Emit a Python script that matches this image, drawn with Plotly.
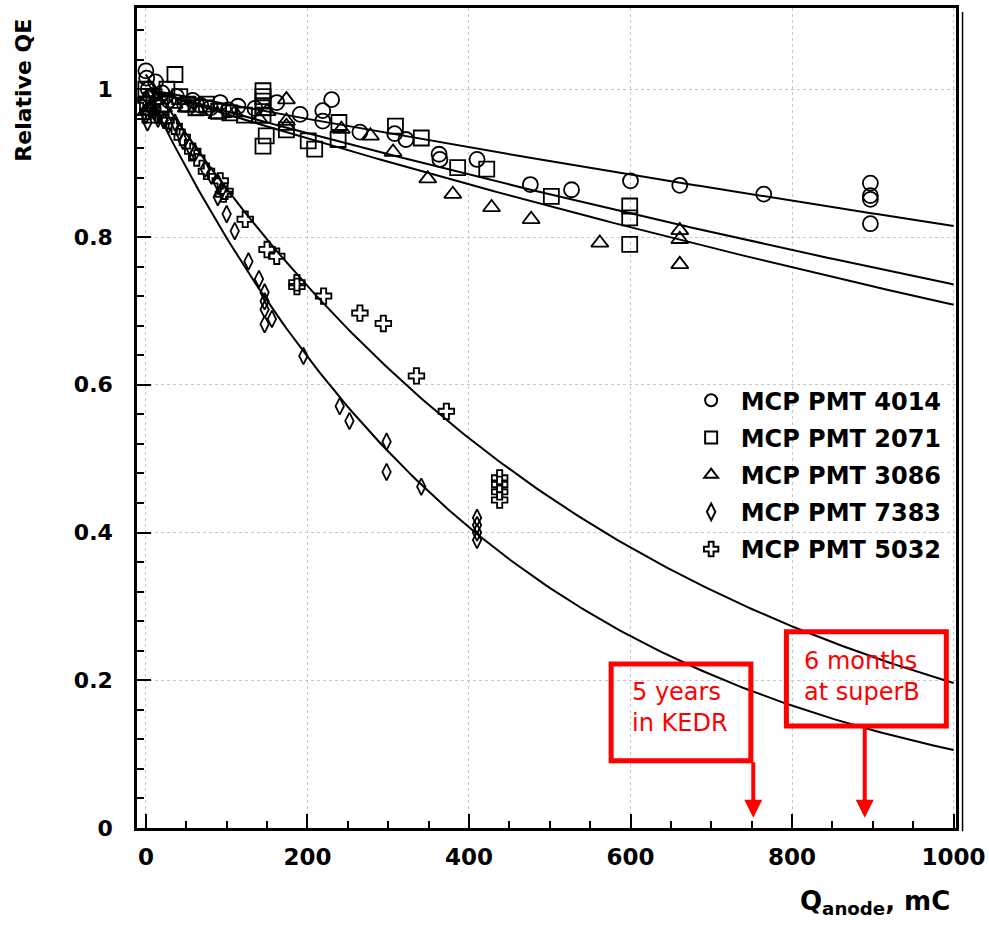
import numpy as np
import plotly.graph_objects as go

# ---------------- data ----------------
pmt4014_x = [0, 1, 3, 6, 12, 20, 28, 38, 48, 58, 68, 80, 92, 102, 114, 135,
             162, 191, 219, 219, 230, 265, 308, 322, 363, 364, 410, 476, 527,
             600, 661, 765, 897, 897, 897, 897]
pmt4014_y = [1.025, 1.015, 1.0, 0.99, 1.01, 0.995, 0.985, 0.99, 0.98, 0.985, 0.978,
             0.975, 0.982, 0.972, 0.977, 0.974,
             0.982, 0.966, 0.971, 0.957, 0.986, 0.942, 0.940, 0.932, 0.912, 0.905,
             0.905, 0.871, 0.864, 0.876, 0.870, 0.858, 0.873, 0.856, 0.851, 0.818]

pmt2071_x = [0, 2, 5, 10, 18, 26, 36, 42, 52, 62, 75, 90, 104, 122,
             145, 145, 145, 145, 145, 149, 145, 174, 201, 209, 239, 238, 309,
             341, 386, 422, 502, 599, 599, 599]
pmt2071_y = [1.0, 0.98, 0.965, 0.99, 0.975, 1.0, 1.02, 0.99, 0.98, 0.975, 0.98,
             0.97, 0.968, 0.965,
             0.998, 0.990, 0.984, 0.975, 0.965, 0.937, 0.923, 0.945, 0.930, 0.919,
             0.955, 0.932, 0.950, 0.934, 0.894, 0.892, 0.855, 0.842, 0.826, 0.790]

pmt3086_x = [0, 4, 12, 22, 35, 50, 66, 88, 110, 140, 150,
             174, 174, 174, 242, 278, 306, 349, 380, 428, 477, 562, 661, 661, 661]
pmt3086_y = [0.97, 0.99, 0.985, 0.975, 0.98, 0.975, 0.97, 0.966, 0.968, 0.96, 0.97,
             0.986, 0.957, 0.950, 0.946, 0.937, 0.915, 0.879, 0.858, 0.840, 0.824,
             0.792, 0.809, 0.797, 0.763]

pmt7383_x = [0, 2, 5, 10, 15, 22, 28, 36, 42, 46, 54, 61, 73, 81, 89, 94, 89,
             100, 110, 127, 140, 147, 147, 147, 156, 147, 195, 240, 252, 298,
             298, 341, 410, 410, 410, 410]
pmt7383_y = [0.965, 0.955, 0.975, 0.97, 0.96, 0.958, 0.952, 0.955, 0.942, 0.930,
             0.923, 0.914, 0.892, 0.883, 0.874, 0.864, 0.854, 0.831, 0.808, 0.767,
             0.743, 0.725, 0.713, 0.702, 0.689, 0.682, 0.639, 0.571, 0.551, 0.523,
             0.482, 0.462, 0.420, 0.410, 0.400, 0.390]

pmt5032_x = [0, 3, 8, 15, 25, 35, 45, 58, 63, 75, 92, 98, 96, 123, 150, 162,
             187, 187, 220, 265, 294, 335, 372, 438, 438, 438, 438]
pmt5032_y = [0.985, 0.97, 0.975, 0.965, 0.958, 0.95, 0.935, 0.916, 0.907, 0.889,
             0.876, 0.862, 0.858, 0.824, 0.783, 0.774, 0.738, 0.733, 0.720, 0.697,
             0.683, 0.612, 0.564, 0.474, 0.465, 0.455, 0.444]

series_names = ["MCP PMT 4014", "MCP PMT 2071", "MCP PMT 3086",
                "MCP PMT 7383", "MCP PMT 5032"]
series_x = [pmt4014_x, pmt2071_x, pmt3086_x, pmt7383_x, pmt5032_x]
series_y = [pmt4014_y, pmt2071_y, pmt3086_y, pmt7383_y, pmt5032_y]

# exponential fit parameters (amplitude, decay constant in mC)
fit_amp = [1.0, 1.0, 1.0, 1.0, 1.02]
fit_tau = [4890, 3260, 2900, 445, 607]

x_ticks = [0, 200, 400, 600, 800, 1000]
y_ticks = [0, 0.2, 0.4, 0.6, 0.8, 1]
y_tick_text = ["0", "0.2", "0.4", "0.6", "0.8", "1"]

# ---------------- styling ----------------
symbols = ["circle-open", "square-open", "triangle-up-open",
           "diamond-tall-open", "cross-open"]
sizes = [15, 15, 15, 12, 13]

fig = go.Figure()

xf = np.linspace(0, 1000, 201)
for a, tau in zip(fit_amp, fit_tau):
    fig.add_trace(go.Scatter(x=xf, y=a * np.exp(-xf / tau), mode="lines",
                             line=dict(color="black", width=2),
                             showlegend=False, hoverinfo="skip"))

for i, (name, xs, ys) in enumerate(zip(series_names, series_x, series_y)):
    fig.add_trace(go.Scatter(
        x=xs, y=ys, mode="markers", name=name, legendgroup=name,
        marker=dict(symbol=symbols[i], size=sizes[i], color="black",
                    line=dict(color="black", width=1.8))))

FONT = "DejaVu Sans"

fig.update_layout(
    width=989, height=926,
    margin=dict(l=137, r=33, t=8, b=98),
    paper_bgcolor="white", plot_bgcolor="white",
    showlegend=True,
    legend=dict(x=0.665, y=0.5486, xanchor="left", yanchor="top",
                bgcolor="rgba(0,0,0,0)", borderwidth=0,
                font=dict(family=FONT, size=24, color="black", weight="bold"),
                tracegroupgap=3, itemsizing="constant", itemwidth=49),
    xaxis=dict(range=[-11, 1003], tickmode="array", tickvals=x_ticks,
               ticktext=[str(v) for v in x_ticks], automargin=False,
               ticks="inside", ticklen=14, tickwidth=1.5, tickcolor="black",
               minor=dict(dtick=50, ticks="inside", ticklen=7, tickcolor="black",
                          showgrid=False),
               showline=True, mirror=True, linecolor="black", linewidth=2.5,
               showgrid=True, gridcolor="#c8c8c8", griddash="dot", gridwidth=1,
               zeroline=False, ticklabelstandoff=7, ticklabeloverflow="allow",
               tickfont=dict(family=FONT, size=23, color="black", weight="bold")),
    yaxis=dict(range=[0, 1.11], tickmode="array", tickvals=y_ticks,
               ticktext=y_tick_text, automargin=False,
               ticks="inside", ticklen=14, tickwidth=1.5, tickcolor="black",
               minor=dict(dtick=0.04, ticks="inside", ticklen=7, tickcolor="black",
                          showgrid=False),
               showline=True, mirror=True, linecolor="black", linewidth=2.5,
               showgrid=True, gridcolor="#c8c8c8", griddash="dot", gridwidth=1,
               zeroline=False, ticklabelstandoff=17, ticklabeloverflow="allow",
               tickfont=dict(family=FONT, size=22, color="black", weight="bold")),
)

# axis titles
fig.add_annotation(text="Relative QE", xref="paper", yref="paper",
                   x=-0.138, y=0.99, xanchor="center", yanchor="top",
                   textangle=-90, showarrow=False,
                   font=dict(family=FONT, size=22, color="black", weight="bold"))
fig.add_annotation(text="Q<sub>anode</sub>, mC", xref="paper", yref="paper",
                   x=0.995, y=-0.068, xanchor="right", yanchor="top",
                   showarrow=False,
                   font=dict(family=FONT, size=26, color="black", weight="bold"))

# shadow line of frame (right side)
fig.add_shape(type="line", xref="paper", yref="paper",
              x0=1.008, x1=1.008, y0=-0.004, y1=0.995,
              line=dict(color="black", width=1.5))

# red annotation boxes
RED = "#ff0000"
box_x0 = [576, 793]
box_x1 = [749, 991]
box_y0 = [0.091, 0.138]
box_y1 = [0.222, 0.2656]
arrow_x = [752, 890]
box_text = ["5 years<br>in KEDR", "6 months<br>at superB"]
text_x = [599, 812]
text_y = [0.206, 0.2475]

for i in range(2):
    fig.add_shape(type="rect", xref="x", yref="y",
                  x0=box_x0[i], x1=box_x1[i], y0=box_y0[i], y1=box_y1[i],
                  line=dict(color=RED, width=5), fillcolor="rgba(0,0,0,0)")
    fig.add_annotation(x=arrow_x[i], y=0.014, ax=arrow_x[i], ay=box_y0[i],
                       xref="x", yref="y", axref="x", ayref="y",
                       showarrow=True, arrowhead=2, arrowsize=0.9,
                       arrowwidth=4, arrowcolor=RED, text="")
    fig.add_annotation(x=text_x[i], y=text_y[i], xref="x", yref="y",
                       text=box_text[i], showarrow=False, align="left",
                       xanchor="left", yanchor="top",
                       font=dict(family="Comic Sans MS, DejaVu Sans", size=24,
                                 color=RED))

fig.write_html("out.html")
